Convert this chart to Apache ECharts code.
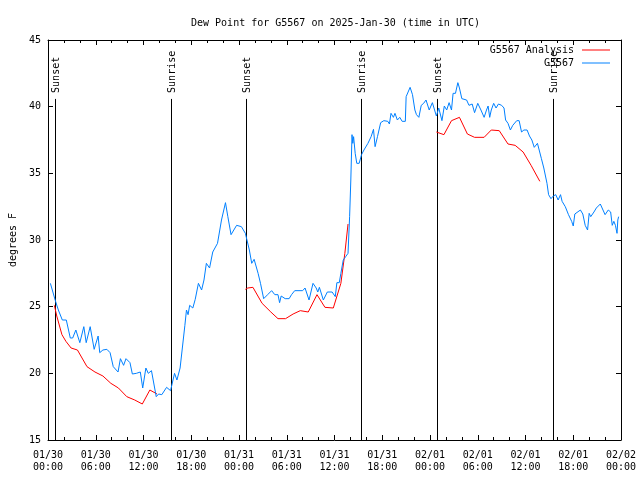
<!DOCTYPE html>
<html>
<head>
<meta charset="utf-8">
<script src="https://cdn.jsdelivr.net/npm/echarts@6/dist/echarts.min.js"></script>
<style>html,body{margin:0;padding:0;background:#fff}#c{width:640px;height:480px}</style>
</head>
<body>
<div id="c"></div>
<script>
// ---- data (hours since 2025-01-30 00:00 UTC) ----
var titleText = 'Dew Point for G5567 on 2025-Jan-30 (time in UTC)';
var yAxisName = 'degrees F';
var seriesNames = ['G5567 Analysis', 'G5567'];
var xTickLabels = ['01/30\n00:00','01/30\n06:00','01/30\n12:00','01/30\n18:00','01/31\n00:00','01/31\n06:00','01/31\n12:00','01/31\n18:00','02/01\n00:00','02/01\n06:00','02/01\n12:00','02/01\n18:00','02/02\n00:00'];
var yTicks = [15, 20, 25, 30, 35, 40, 45];

var eventTimes = [0.92, 15.45, 24.83, 39.36, 48.83, 63.4];
var eventLabels = ['Sunset', 'Sunrise', 'Sunset', 'Sunrise', 'Sunset', 'Sunrise'];
var eventTopValue = 40.58;

var analysisSeg1 = [[0.8,25.1],[1.1,24.3],[1.75,22.9],[2.25,22.4],[2.9,21.9],[3.7,21.75],[4.9,20.5],[5.9,20.1],[6.9,19.8],[7.9,19.25],[8.85,18.9],[9.9,18.25],[10.9,18.0],[11.85,17.7],[12.8,18.75],[13.7,18.45]];
var analysisSeg2 = [[24.8,26.3],[25.1,26.4],[25.75,26.45],[26.9,25.25],[28.0,24.6],[28.9,24.1],[29.85,24.1],[30.8,24.45],[31.7,24.7],[32.7,24.6],[33.8,25.9],[34.8,24.95],[35.85,24.9],[36.8,26.75],[37.3,29.0],[37.7,31.2]];
var analysisSeg3 = [[48.8,38.1],[49.75,37.9],[50.7,38.95],[51.7,39.2],[52.7,37.95],[53.6,37.7],[54.8,37.7],[55.7,38.25],[56.7,38.2],[57.8,37.2],[58.7,37.1],[59.7,36.6],[60.7,35.6],[61.8,34.4]];

var obs = [[0.3,26.75],[0.9,25.5],[1.3,24.75],[1.8,24.0],[2.3,24.0],[2.8,22.65],[3.1,22.65],[3.5,23.25],[4.0,22.3],[4.5,23.5],[4.8,22.3],[5.3,23.5],[5.8,21.8],[6.0,21.8],[6.3,22.8],[6.5,21.55],[6.9,21.75],[7.4,21.8],[7.8,21.55],[8.2,20.5],[8.8,20.1],[9.1,21.1],[9.5,20.6],[9.8,21.1],[10.3,20.8],[10.6,19.95],[11.1,20.0],[11.6,20.1],[11.9,18.9],[12.3,20.4],[12.6,20.0],[13.0,20.2],[13.6,18.25],[13.9,18.45],[14.3,18.4],[14.9,18.95],[15.4,18.7],[15.9,20.0],[16.2,19.5],[16.6,20.4],[17.2,23.6],[17.4,24.75],[17.6,24.4],[17.8,25.1],[18.2,24.9],[18.5,25.55],[18.9,26.75],[19.3,26.25],[19.6,27.0],[19.9,28.25],[20.3,27.9],[20.7,29.1],[21.3,29.75],[21.8,31.5],[22.3,32.8],[22.6,31.75],[23.0,30.4],[23.7,31.1],[24.3,31.0],[24.8,30.5],[25.3,29.25],[25.6,28.25],[25.9,28.55],[26.4,27.5],[26.7,26.75],[27.1,25.6],[27.3,25.6],[27.6,25.9],[28.1,26.2],[28.5,25.9],[28.9,25.9],[29.1,25.3],[29.3,25.8],[29.8,25.6],[30.3,25.6],[30.6,25.9],[31.0,26.2],[32.0,26.2],[32.3,26.4],[32.8,25.5],[33.3,26.75],[33.7,26.4],[33.9,26.1],[34.1,26.45],[34.6,25.5],[35.1,26.1],[35.7,26.1],[36.1,25.75],[36.3,26.8],[36.6,26.8],[36.8,27.5],[37.1,28.5],[37.4,28.75],[37.7,29.0],[37.9,31.75],[38.05,34.5],[38.2,37.9],[38.3,37.25],[38.4,37.75],[38.6,36.5],[38.8,35.75],[39.1,35.75],[39.4,36.4],[39.7,36.75],[40.2,37.25],[40.6,37.75],[40.9,38.3],[41.1,37.0],[41.4,37.75],[41.8,38.8],[42.2,38.95],[42.7,38.9],[42.9,38.7],[43.1,39.5],[43.4,39.2],[43.6,39.5],[43.9,39.0],[44.2,39.2],[44.5,38.9],[44.9,38.9],[45.0,40.75],[45.5,41.45],[45.8,40.9],[46.1,39.75],[46.3,39.4],[46.6,39.2],[46.9,40.1],[47.2,40.25],[47.5,40.5],[47.9,39.75],[48.3,40.3],[48.5,40.25],[48.8,39.3],[49.1,39.9],[49.5,38.95],[49.8,40.05],[50.1,39.75],[50.4,40.3],[50.7,39.75],[50.9,41.0],[51.2,41.0],[51.5,41.8],[51.7,41.4],[52.0,40.6],[52.6,40.5],[52.9,40.1],[53.3,40.2],[53.6,39.55],[54.0,40.25],[54.4,39.75],[54.8,39.2],[55.1,39.75],[55.3,40.05],[55.5,39.2],[55.7,39.75],[56.0,40.25],[56.3,39.9],[56.6,40.2],[57.0,40.1],[57.3,39.9],[57.5,39.0],[57.8,38.75],[58.1,38.25],[58.4,38.6],[58.9,38.95],[59.2,38.95],[59.5,38.1],[59.8,38.25],[60.2,38.25],[60.5,37.8],[60.8,37.5],[61.1,36.95],[61.5,37.25],[61.7,37.1],[62.0,36.1],[62.3,35.4],[62.7,34.25],[62.9,33.4],[63.2,33.1],[63.5,33.3],[63.8,33.4],[64.1,33.0],[64.4,33.4],[64.6,32.9],[65.0,32.5],[65.4,31.9],[65.8,31.4],[66.0,31.05],[66.2,31.95],[66.9,32.25],[67.2,31.95],[67.5,31.1],[67.8,30.75],[68.0,32.0],[68.2,31.75],[68.6,32.1],[68.9,32.4],[69.4,32.7],[69.6,32.6],[70.0,31.9],[70.4,32.25],[70.7,32.1],[70.9,31.1],[71.1,31.4],[71.3,31.1],[71.5,30.5],[71.6,31.5],[71.7,31.75]];

// ---- chart ----
var FONT = 'DejaVu Sans Mono';
var analysisData = analysisSeg1.concat([[14.5, null]], analysisSeg2, [[40, null]], analysisSeg3);
var eventData = eventTimes.map(function (t, i) { return [t, eventTopValue, i]; });

var chart = echarts.init(document.getElementById('c'), null, {renderer: 'canvas'});
var axisLineStyle = {color: '#000', width: 1};
chart.setOption({
  animation: false,
  backgroundColor: '#fff',
  title: {
    text: titleText, left: 186, top: 13,
    textStyle: {fontFamily: FONT, fontSize: 10, fontWeight: 'normal', color: '#000'}
  },
  legend: {
    data: seriesNames, orient: 'vertical', align: 'right', icon: 'rect',
    right: 30, top: 44, padding: 0, itemWidth: 28, itemHeight: 1, itemGap: 1,
    textStyle: {fontFamily: FONT, fontSize: 10, color: '#000', padding: [0, 3, 0, 0], lineHeight: 12}
  },
  grid: {left: 46, right: 19, top: 40, bottom: 40, containLabel: false},
  xAxis: [{
    type: 'value', position: 'bottom', min: 0, max: 72, interval: 6,
    axisLine: {show: true, onZero: false, lineStyle: axisLineStyle},
    axisTick: {show: true, inside: true, length: 5, lineStyle: axisLineStyle},
    minorTick: {show: true, splitNumber: 3, length: 3, lineStyle: axisLineStyle},
    splitLine: {show: false},
    axisLabel: {
      show: true, margin: 10, color: '#000', fontFamily: FONT, fontSize: 10, lineHeight: 11.5,
      showMinLabel: true, showMaxLabel: true,
      formatter: function (v) { return xTickLabels[Math.round(v / 6)] || ''; }
    }
  }, {
    type: 'value', position: 'top', min: 0, max: 72, interval: 6,
    axisLine: {show: true, onZero: false, lineStyle: axisLineStyle},
    axisTick: {show: true, inside: true, length: 5, lineStyle: axisLineStyle},
    minorTick: {show: true, splitNumber: 3, length: 3, lineStyle: axisLineStyle},
    splitLine: {show: false}, axisLabel: {show: false}
  }],
  yAxis: [{
    type: 'value', position: 'left', min: yTicks[0], max: yTicks[yTicks.length - 1], interval: 5,
    name: yAxisName, nameLocation: 'middle', nameRotate: 90, nameGap: 30,
    nameTextStyle: {fontFamily: FONT, fontSize: 10, color: '#000'},
    axisLine: {show: true, onZero: false, lineStyle: axisLineStyle},
    axisTick: {show: true, inside: true, length: 5, lineStyle: axisLineStyle},
    splitLine: {show: false},
    axisLabel: {margin: 7, color: '#000', fontFamily: FONT, fontSize: 10}
  }, {
    type: 'value', position: 'right', min: yTicks[0], max: yTicks[yTicks.length - 1], interval: 5,
    axisLine: {show: true, onZero: false, lineStyle: axisLineStyle},
    axisTick: {show: true, inside: true, length: 5, lineStyle: axisLineStyle},
    splitLine: {show: false}, axisLabel: {show: false}
  }],
  series: [{
    type: 'custom', name: 'events', xAxisIndex: 0, yAxisIndex: 0, silent: true,
    data: eventData,
    renderItem: function (params, api) {
      var t = api.value(0), top = api.value(1), idx = api.value(2);
      var p0 = api.coord([t, yTicks[0]]);
      var p1 = api.coord([t, top]);
      var x = Math.round(p0[0]) + 0.5;
      return {
        type: 'group',
        children: [{
          type: 'line',
          shape: {x1: x, y1: p0[1], x2: x, y2: p1[1]},
          style: {stroke: '#000', lineWidth: 1}
        }, {
          type: 'text', x: x + 0.5, y: p1[1] - 6, rotation: Math.PI / 2,
          style: {text: eventLabels[idx], fill: '#000', font: '10px "DejaVu Sans Mono"', align: 'left', verticalAlign: 'middle'}
        }]
      };
    }
  }, {
    type: 'line', name: seriesNames[0], data: analysisData,
    symbol: 'none', showSymbol: false, connectNulls: false,
    lineStyle: {color: '#ff0000', width: 1}, itemStyle: {color: '#ff0000'}
  }, {
    type: 'line', name: seriesNames[1], data: obs,
    symbol: 'none', showSymbol: false,
    lineStyle: {color: '#0080ff', width: 1}, itemStyle: {color: '#0080ff'}
  }]
});
</script>
</body>
</html>
